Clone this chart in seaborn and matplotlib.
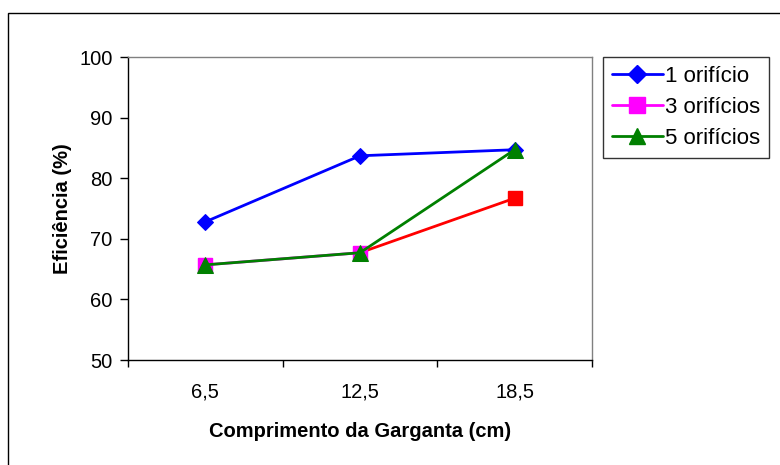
import matplotlib
matplotlib.use("Agg")
import matplotlib.pyplot as plt
import seaborn as sns
import pandas as pd
from matplotlib.patches import Rectangle
from matplotlib.lines import Line2D

categories = ["6,5", "12,5", "18,5"]
um_orificio = [72.8, 83.7, 84.7]
tres_orificios = [65.7, 67.7, 76.7]
cinco_orificios = [65.7, 67.7, 84.7]
y_ticks = [50, 60, 70, 80, 90, 100]
labels = ["1 orifício", "3 orifícios", "5 orifícios"]

sns.set_theme(style="white")
plt.rcParams['font.family'] = ['Liberation Sans', 'DejaVu Sans']
plt.rcParams['text.color'] = 'black'
plt.rcParams['axes.labelcolor'] = 'black'
plt.rcParams['xtick.color'] = 'black'
plt.rcParams['ytick.color'] = 'black'

fig = plt.figure(figsize=(7.8, 4.65), dpi=100)
ax = fig.add_axes([128/780, 1-360/465, (592-128)/780, (360-57)/465])

x = list(range(len(categories)))

# figure border (extends beyond right/bottom edges)
fig.patches.append(Rectangle((8/780, -0.1), 1.2, 1 - 13/465 + 0.1, transform=fig.transFigure,
                             fill=False, edgecolor='black', linewidth=1.0))

df1 = pd.DataFrame({"x": x, "y": um_orificio})
df3 = pd.DataFrame({"x": x, "y": tres_orificios})
df5 = pd.DataFrame({"x": x, "y": cinco_orificios})

# 3 orificios: magenta series, last segment and marker in red
sns.lineplot(data=df3.iloc[:2], x="x", y="y", ax=ax, color="#FF00FF", linewidth=2,
             marker="s", markersize=10, markeredgecolor="#FF00FF", label="_nolegend_")
sns.lineplot(data=df3.iloc[1:], x="x", y="y", ax=ax, color="#FF0000", linewidth=2,
             marker=None, label="_nolegend_")
ax.plot([x[2]], [tres_orificios[2]], marker="s", markersize=10, color="#FF0000", linestyle="none")
ax.plot([x[0], x[1]], [tres_orificios[0], tres_orificios[1]], marker="s", markersize=10,
        color="#FF00FF", linestyle="none")

sns.lineplot(data=df1, x="x", y="y", ax=ax, color="#0000FF", linewidth=2,
             marker="D", markersize=8, markeredgecolor="#0000FF", label="_nolegend_")
sns.lineplot(data=df5, x="x", y="y", ax=ax, color="#008000", linewidth=2,
             marker="^", markersize=11, markeredgecolor="#008000", label="_nolegend_")

ax.set_xlim(-0.5, len(categories) - 0.5)
ax.set_ylim(50, 100)
ax.set_yticks(y_ticks)
ax.set_yticklabels([str(v) for v in y_ticks], fontsize=14.5)
ax.set_xticks(x)
ax.set_xticklabels(categories, fontsize=14.5)
ax.set_xticks([-0.5, 0.5, 1.5, 2.5], minor=True)
ax.tick_params(axis='x', which='major', length=0, pad=16)
ax.tick_params(axis='x', which='minor', length=5, width=1, color='black', direction='out', bottom=True)
ax.tick_params(axis='y', which='major', length=6, width=1, color='black', direction='out', left=True, pad=5)

for s in ax.spines.values():
    s.set_visible(True)
    s.set_color('black')
    s.set_linewidth(1)
ax.spines['top'].set_color('#808080')
ax.spines['right'].set_color('#808080')

ax.set_xlabel("Comprimento da Garganta (cm)", fontsize=14.5, fontweight='bold', labelpad=15)
ax.set_ylabel("Eficiência (%)", fontsize=14.5, fontweight='bold', labelpad=5)

handles = [
    Line2D([], [], color="#0000FF", linewidth=2, marker="D", markersize=9),
    Line2D([], [], color="#FF00FF", linewidth=2, marker="s", markersize=11),
    Line2D([], [], color="#008000", linewidth=2, marker="^", markersize=12),
]
leg = fig.legend(handles, labels, loc='upper left', bbox_to_anchor=(603/780, 1-57/465),
                 frameon=True, fancybox=False, edgecolor='black', fontsize=16,
                 handlelength=2.3, borderpad=0.4, labelspacing=0.45, handletextpad=0.1,
                 borderaxespad=0)
leg.get_frame().set_linewidth(1)

fig.savefig("out.png", dpi=100)
